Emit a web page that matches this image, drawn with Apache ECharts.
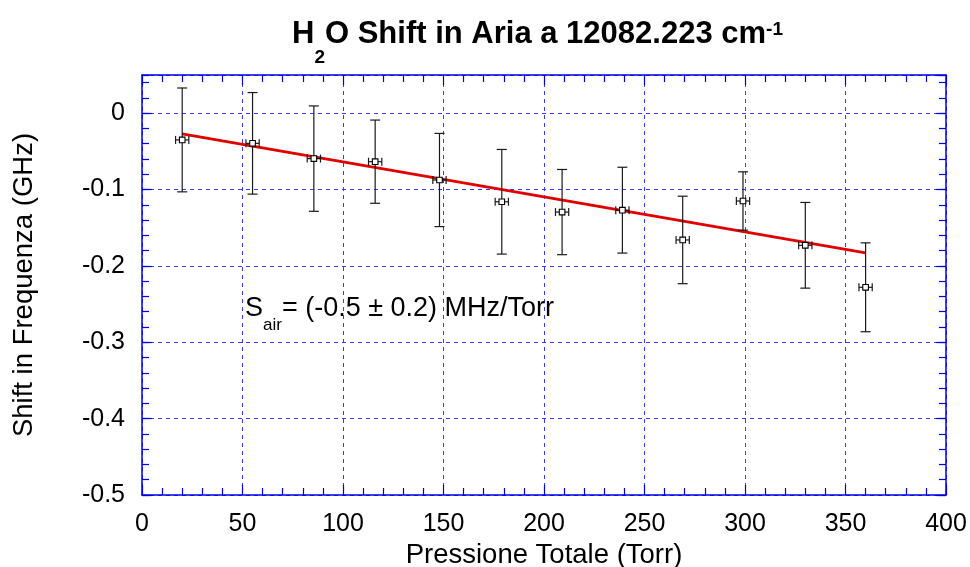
<!DOCTYPE html>
<html>
<head>
<meta charset="utf-8">
<script src="https://cdn.jsdelivr.net/npm/echarts@6/dist/echarts.min.js"></script>
<style>
html,body{margin:0;padding:0;background:#fff;}
#chart{width:970px;height:567px;}
</style>
</head>
<body>
<div id="chart"></div>
<script>
// Data
const pressure = [20, 55, 85.5, 116, 148, 179, 209, 239, 269, 299, 330, 360];
const shift = [-0.035, -0.0395, -0.0595, -0.0635, -0.0875, -0.116, -0.1295, -0.127, -0.166, -0.115, -0.173, -0.228];
const shiftErr = [0.068, 0.0665, 0.069, 0.0545, 0.061, 0.0685, 0.0558, 0.0562, 0.0573, 0.0382, 0.0561, 0.0582];
const pressureErr = [3.3, 3.3, 3.3, 3.3, 3.3, 3.3, 3.3, 3.3, 3.3, 3.3, 3.3, 3.3];
const fitX = [20, 360];
const fitY = [-0.027, -0.183];

const FONT = 'Liberation Sans, Arial, sans-serif';
const AXIS_BLUE = '#0000e8';
const GRID_BLUE = '#3a3aff';

const pointData = pressure.map((x, i) => [x, shift[i], pressureErr[i], shiftErr[i]]);
const fitData = fitX.map((x, i) => [x, fitY[i]]);

const chart = echarts.init(document.getElementById('chart'), null, {renderer: 'canvas'});

function mainAxisCommon() {
  return {
    axisLine: {show: true, onZero: false, lineStyle: {color: AXIS_BLUE, width: 1.5}},
    axisTick: {show: true, inside: true, length: 10, lineStyle: {color: AXIS_BLUE, width: 1.2}},
  };
}

const option = {
  backgroundColor: '#fff',
  animation: false,
  title: [
    {
      text: '{m|H}{s|2}{m|O Shift in Aria a 12082.223 cm}{p|-1}',
      left: 292, top: 0, padding: 0,
      textStyle: {
        rich: {
          m: {fontSize: 31, fontWeight: 'bold', fontFamily: FONT, color: '#000', verticalAlign: 'top', padding: [19, 0, 0, 0]},
          s: {fontSize: 19, fontWeight: 'bold', fontFamily: FONT, color: '#000', verticalAlign: 'top', padding: [48, 0, 0, 0]},
          p: {fontSize: 19, fontWeight: 'bold', fontFamily: FONT, color: '#000', verticalAlign: 'top', padding: [20, 0, 0, 0]}
        }
      }
    },
    {
      text: '{m|S}{s|air}{m|= (-0.5 ± 0.2) MHz/Torr}',
      left: 245, top: 295, padding: 0,
      textStyle: {
        fontWeight: 'normal',
        rich: {
          m: {fontSize: 27, fontWeight: 'normal', fontFamily: FONT, color: '#000', verticalAlign: 'top', padding: [0, 0, 0, 0]},
          s: {fontSize: 17, fontWeight: 'normal', fontFamily: FONT, color: '#000', verticalAlign: 'top', padding: [22, 0, 0, 0]}
        }
      }
    }
  ],
  grid: {left: 142, right: 24, top: 75, bottom: 72, containLabel: false, outerBoundsMode: 'none'},
  xAxis: [
    Object.assign(mainAxisCommon(), {
      type: 'value', position: 'bottom', min: 0, max: 400, interval: 50,
      minorTick: {show: true, splitNumber: 5, length: 7, lineStyle: {color: AXIS_BLUE, width: 1.2}},
      axisLabel: {color: '#000', fontSize: 25, fontFamily: FONT, margin: 17},
      splitLine: {show: true, lineStyle: {color: GRID_BLUE, width: 1, type: [4, 4]}},
      name: 'Pressione Totale (Torr)', nameLocation: 'middle', nameGap: 33,
      nameTextStyle: {color: '#000', fontSize: 27.5, fontFamily: FONT}
    }),
    Object.assign(mainAxisCommon(), {
      type: 'value', position: 'top', min: 0, max: 400, interval: 50,
      minorTick: {show: true, splitNumber: 5, length: 7, lineStyle: {color: AXIS_BLUE, width: 1.2}},
      axisLabel: {show: false},
      splitLine: {show: false}
    })
  ],
  yAxis: [
    Object.assign(mainAxisCommon(), {
      type: 'value', position: 'left', min: -0.5, max: 0.05, interval: 0.1,
      axisLabel: {color: '#000', fontSize: 25, fontFamily: FONT, margin: 17, padding: [6, 0, 0, 0], showMaxLabel: false,
        formatter: v => (Math.abs(v - 0.05) < 1e-9 ? '' : String(Math.round(v * 10) / 10))},
      splitLine: {show: true, lineStyle: {color: GRID_BLUE, width: 1, type: [4, 4]}},
      name: 'Shift in Frequenza (GHz)', nameLocation: 'middle', nameGap: 104,
      nameTextStyle: {color: '#000', fontSize: 27.5, fontFamily: FONT}
    }),
    {
      type: 'value', position: 'left', min: -0.5, max: 0.05, interval: 0.02,
      axisLine: {show: false, onZero: false},
      axisTick: {show: true, inside: true, length: 7, lineStyle: {color: AXIS_BLUE, width: 1.2}},
      axisLabel: {show: false}, splitLine: {show: false}
    },
    Object.assign(mainAxisCommon(), {
      type: 'value', position: 'right', min: -0.5, max: 0.05, interval: 0.1,
      axisLabel: {show: false}, splitLine: {show: false}
    }),
    {
      type: 'value', position: 'right', min: -0.5, max: 0.05, interval: 0.02,
      axisLine: {show: false, onZero: false},
      axisTick: {show: true, inside: true, length: 7, lineStyle: {color: AXIS_BLUE, width: 1.2}},
      axisLabel: {show: false}, splitLine: {show: false}
    }
  ],
  series: [
    {
      type: 'line', xAxisIndex: 0, yAxisIndex: 0,
      data: fitData, symbol: 'none', z: 3,
      lineStyle: {color: '#e00000', width: 2.8}
    },
    {
      type: 'custom', xAxisIndex: 0, yAxisIndex: 0, z: 4,
      data: pointData,
      renderItem: function (params, api) {
        const x = api.value(0), y = api.value(1), ex = api.value(2), ey = api.value(3);
        const c = api.coord([x, y]);
        const t = api.coord([x, y + ey]);
        const b = api.coord([x, y - ey]);
        const l = api.coord([x - ex, y]);
        const r = api.coord([x + ex, y]);
        const cap = 5, hcap = 4, h = 2.8;
        const st = {stroke: '#1a1a1a', lineWidth: 1.2};
        return {
          type: 'group',
          children: [
            {type: 'line', shape: {x1: t[0], y1: t[1], x2: b[0], y2: b[1]}, style: st},
            {type: 'line', shape: {x1: t[0] - cap, y1: t[1], x2: t[0] + cap, y2: t[1]}, style: st},
            {type: 'line', shape: {x1: b[0] - cap, y1: b[1], x2: b[0] + cap, y2: b[1]}, style: st},
            {type: 'line', shape: {x1: l[0], y1: l[1], x2: r[0], y2: r[1]}, style: st},
            {type: 'line', shape: {x1: l[0], y1: l[1] - hcap, x2: l[0], y2: l[1] + hcap}, style: st},
            {type: 'line', shape: {x1: r[0], y1: r[1] - hcap, x2: r[0], y2: r[1] + hcap}, style: st},
            {type: 'rect', shape: {x: c[0] - h, y: c[1] - h, width: 2 * h, height: 2 * h}, style: {fill: '#fff', stroke: '#000', lineWidth: 1.1}}
          ]
        };
      }
    }
  ]
};
chart.setOption(option);
</script>
</body>
</html>
